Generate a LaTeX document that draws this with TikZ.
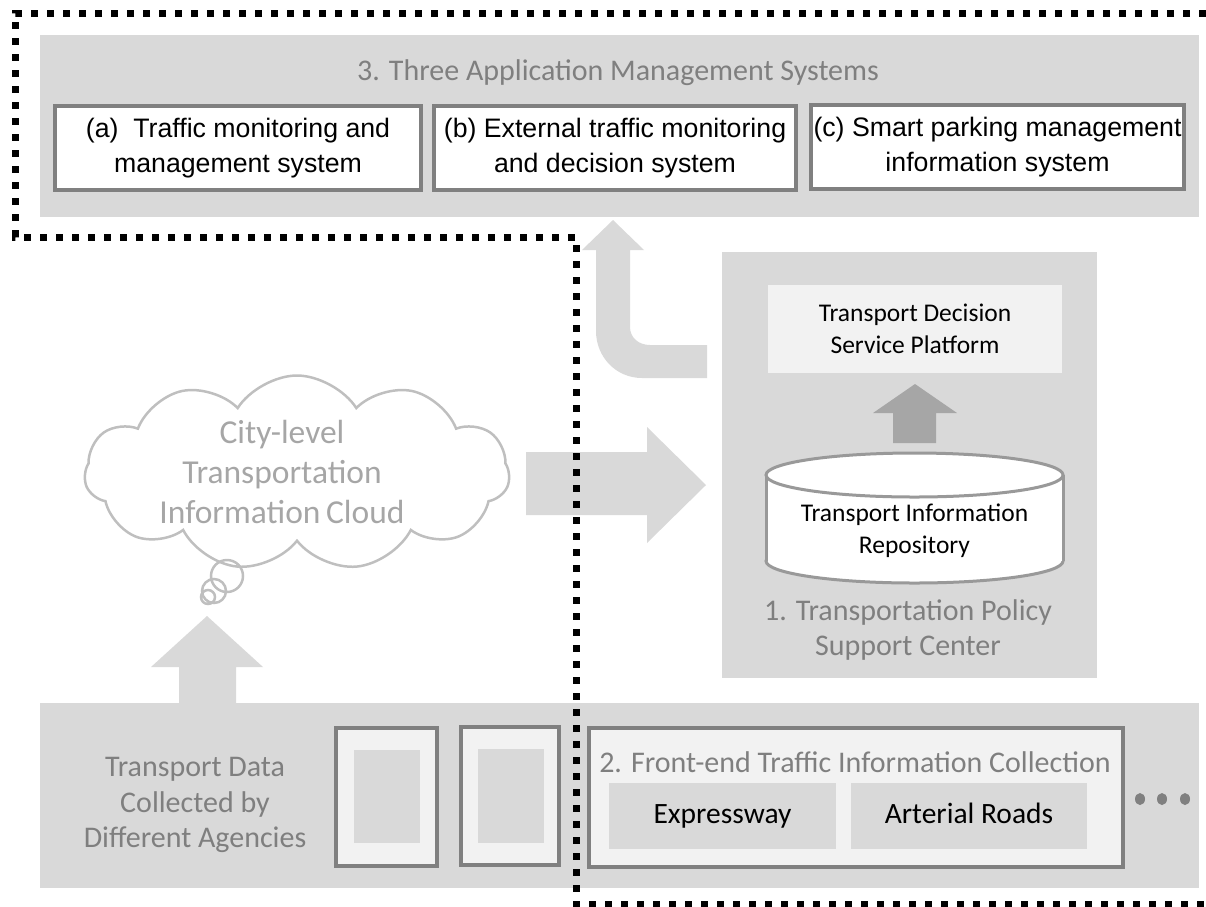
\documentclass[tikz,border=0pt]{standalone}
\usepackage{fontspec}
\setmainfont{Carlito}
\newfontfamily\arialfont{Liberation Sans}
\usetikzlibrary{calc,shapes.symbols}

\definecolor{panelgray}{HTML}{D9D9D9}
\definecolor{framegray}{HTML}{808080}
\definecolor{lightfill}{HTML}{F2F2F2}
\definecolor{titlegray}{HTML}{7F7F7F}
\definecolor{cloudgray}{HTML}{BFBFBF}
\definecolor{cloudtext}{HTML}{A6A6A6}
\definecolor{darkarrow}{HTML}{A6A6A6}

\tikzset{
	panel/.style={fill=panelgray},
	sysbox/.style={draw=framegray, line width=4pt, fill=white, inner sep=0pt,
		font=\arialfont\fontsize{26.7}{35}\selectfont, align=center},
	framebox/.style={draw=framegray, line width=4pt, fill=lightfill},
	graytitle/.style={text=titlegray, font=\fontsize{30}{35.5}\selectfont, align=center, inner sep=0pt},
	darktext/.style={font=\fontsize{25.5}{32}\selectfont, align=center, inner sep=0pt},
	roadbox/.style={fill=panelgray, inner sep=0pt, text height=21pt, text depth=7pt, font=\fontsize{29.5}{35}\selectfont},
	blockarrow/.style={fill=panelgray},
	dotline/.style={line width=7pt, dash pattern=on 7pt off 9pt}
}

\begin{document}
\begin{tikzpicture}[x=1pt, y=-1pt]
			\useasboundingbox (0,0) rectangle (1206,906);

			\fill[panel] (40,35) rectangle (1199,217);
			\node[graytitle] (apptitle) at (618,73) {3. Three Application Management Systems};
			\node[sysbox, minimum width=366pt, minimum height=84pt] (sysa) at (238,148) {(a)\ \ Traffic monitoring and\\management system};
			\node[sysbox, minimum width=362pt, minimum height=84pt] (sysb) at (615,148) {(b) External traffic monitoring\\and decision system};
			\node[sysbox, minimum width=373pt, minimum height=84pt] (sysc) at (997.5,147) {(c) Smart parking management\\information system};

			\fill[panel] (722,252) rectangle (1097,678);
			\node[darktext, fill=lightfill, minimum width=294pt, minimum height=88pt] (platform) at (915,329) {Transport Decision\\Service Platform};
			\fill[darkarrow] (893,443) -- (893,413) -- (873,413) -- (915,384) -- (957,413) -- (936,413) -- (936,443) -- cycle;
			\draw[draw=framegray!80, line width=3pt, fill=white] (914.5,561) ellipse (148.5 and 22);
			\fill[white] (766,475) rectangle (1063,561);
			\draw[draw=framegray!80, line width=3pt] (766,475) -- (766,561) (1063,475) -- (1063,561);
			\draw[draw=framegray!80, line width=3pt, fill=white] (914.5,475) ellipse (148.5 and 22);
			\node[darktext] (repo) at (914.5,531) {Transport Information\\Repository};
			\node[graytitle] (center) at (908,630) {1. Transportation Policy\\Support Center};

			\fill[blockarrow] (707,378) -- (642,378) .. controls (616,378) and (596,357) .. (596,331) -- (596,250) -- (582,250) -- (613,220) -- (644,250) -- (630,250) -- (630,327) .. controls (630,338) and (639,345) .. (650,345) -- (707,345) -- cycle;
			\fill[blockarrow] (526,452) -- (647,452) -- (647,427) -- (706,485) -- (647,543) -- (647,515) -- (526,515) -- cycle;

			\node[cloud, cloud puffs=11, cloud puff arc=115, aspect=2.2, draw=cloudgray, line width=2.5pt, minimum width=425pt, minimum height=195pt, inner sep=0pt] (cloud) at (297,473) {};
			\node[text=cloudtext, font=\fontsize{33.5}{40}\selectfont, align=center, inner sep=0pt] (cloudlabel) at (282,472) {City-level\\Transportation\\Information\,Cloud};
			\draw[cloudgray, line width=2.5pt] (227,576) circle (16) (214,591) circle (12) (208,597) circle (7);

			\fill[blockarrow] (179,705) -- (179,667) -- (151,667) -- (207,616) -- (263,667) -- (236,667) -- (236,705) -- cycle;
			\fill[panel] (40,703) rectangle (1199,888);
			\node[graytitle] (agencies) at (195,805) {Transport Data\\Collected by\\Different Agencies};
			\draw[framebox] (336,728) rectangle (437,866);
			\fill[panel] (354,750) rectangle (420,843);
			\draw[framebox] (461,727) rectangle (559,865);
			\fill[panel] (478,749) rectangle (544,843);

			\draw[framebox] (589,728) rectangle (1123,867);
			\node[graytitle] (fronttitle) at (855,762) {2. Front-end Traffic Information Collection};
			\node[roadbox, minimum width=227pt, minimum height=66pt] (express) at (722.5,816) {Expressway};
			\node[roadbox, minimum width=236pt, minimum height=66pt] (arterial) at (969,816) {Arterial Roads};
			\foreach \dx in {1140,1162,1185}
				\fill[framegray] (\dx,799) ellipse (5 and 6);

			\draw[dotline] (1206,13) -- (15,13) -- (15,237) -- (576,237) -- (576,904) -- (1206,904);
		\end{tikzpicture}
\end{document}
